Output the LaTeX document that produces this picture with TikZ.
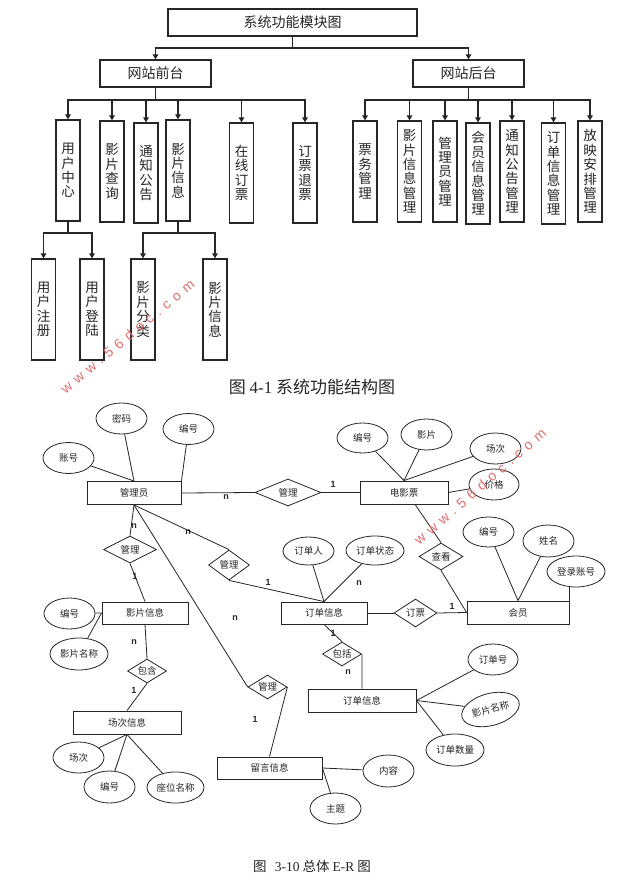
\documentclass[tikz,border=0pt]{standalone}
\usepackage{fontspec}
\setmainfont{Noto Sans CJK SC}
\newfontfamily\lat{Liberation Serif}
\newfontfamily\lsans{Liberation Sans}
\newfontfamily\wmfont[LetterSpace=40]{Liberation Sans}
\usetikzlibrary{shapes.geometric,arrows.meta,calc}
\definecolor{ink}{rgb}{0.15,0.15,0.15}
\definecolor{wmred}{RGB}{222,112,112}
\tikzset{
  tbox/.style={draw=ink, line width=1.2pt, inner sep=0pt, text=ink, font=\fontsize{14}{16}\selectfont},
  vbox/.style={tbox, minimum width=24pt, minimum height=101pt, align=center, font=\fontsize{13.5}{14.4}\selectfont},
  tline/.style={draw=ink, line width=1.2pt},
  tarr/.style={draw=ink, line width=1.2pt, -{Triangle[length=5pt,width=5.5pt]}},
  ent/.style={draw=ink, line width=0.9pt, inner sep=0pt, text=ink, font=\fontsize{9.5}{11}\selectfont},
  attr/.style={ellipse, draw=ink, line width=0.8pt, inner sep=0pt, minimum width=51pt, minimum height=31pt, text=ink, font=\fontsize{9.5}{11}\selectfont},
  rel/.style={diamond, draw=ink, line width=0.8pt, inner sep=0pt, shape aspect=1.6, text=ink, font=\fontsize{9.5}{11}\selectfont},
  erl/.style={draw=ink, line width=0.8pt},
  card/.style={inner sep=0pt, text=ink, font=\lsans\bfseries\fontsize{9}{10}\selectfont},
  wm/.style={inner sep=0pt, text=wmred, font=\wmfont\fontsize{14}{14}\selectfont},
  captxt/.style={inner sep=0pt, text=ink}
}
\begin{document}
\begin{tikzpicture}[x=1pt,y=-1pt]
\useasboundingbox (0,0) rectangle (643,885);
\fill[white] (0,0) rectangle (643,885);

% ---------- top: function structure ----------
\node[tbox, minimum width=249pt, minimum height=27pt] (title) at (292.5,22.5) {系统功能模块图};
\node[tbox, minimum width=111pt, minimum height=27pt] (qt) at (155.5,73.5) {网站前台};
\node[tbox, minimum width=111pt, minimum height=27pt] (ht) at (468.5,73.5) {网站后台};
\coordinate (t1) at (292.5,48);
\draw[tline] (title.south) -- (t1);
\draw[tarr] (t1) -| (qt.north);
\draw[tarr] (t1) -| (ht.north);

% front children
\node[vbox] (yh)  at (68,170.5)  {用\\户\\中\\心};
\node[vbox] (ycx) at (112,171.5) {影\\片\\查\\询};
\node[vbox, minimum height=100pt] (tz)  at (146,173)   {通\\知\\公\\告};
\node[vbox] (ypx) at (178,170.5) {影\\片\\信\\息};
\node[vbox, minimum height=100pt] (zx)  at (241.5,173) {在\\线\\订\\票};
\node[vbox, minimum height=100pt] (tp)  at (305,173)   {订\\票\\退\\票};
\coordinate (f1) at (155.5,100);
\draw[tline] (qt.south) -- (f1);
\foreach \n in {yh,ycx,tz,ypx,zx,tp} \draw[tarr] (f1) -| (\n.north);

% back children
\node[vbox] (pw)  at (365,171.5)   {票\\务\\管\\理};
\node[vbox] (ypm) at (409.5,171.5) {影\\片\\信\\息\\管\\理};
\node[vbox] (glm) at (445,171.5)   {管\\理\\员\\管\\理};
\node[vbox] (hym) at (478,173.5)   {会\\员\\信\\息\\管\\理};
\node[vbox] (tzm) at (512,171.5)   {通\\知\\公\\告\\管\\理};
\node[vbox] (ddm) at (553.5,173.5) {订\\单\\信\\息\\管\\理};
\node[vbox] (fym) at (590,171.5)   {放\\映\\安\\排\\管\\理};
\coordinate (b1) at (468.5,100);
\draw[tline] (ht.south) -- (b1);
\foreach \n in {pw,ypm,glm,hym,tzm,ddm,fym} \draw[tarr] (b1) -| (\n.north);

% level 3
\node[vbox] (yhzc) at (43.5,309.5) {用\\户\\注\\册};
\node[vbox] (yhdl) at (92,309.5)   {用\\户\\登\\陆};
\node[vbox] (ypfl) at (143,309.5)  {影\\片\\分\\类};
\node[vbox] (ypx2) at (215,309.5)  {影\\片\\信\\息};
\coordinate (u1) at (68,233);
\coordinate (p1) at (178,233);
\draw[tline] (yh.south) -- (u1);
\draw[tarr] (u1) -| (yhzc.north);
\draw[tarr] (u1) -| (yhdl.north);
\draw[tline] (ypx.south) -- (p1);
\draw[tarr] (p1) -| (ypfl.north);
\draw[tarr] (p1) -| (ypx2.north);

\node[captxt, font=\fontsize{17}{19}\selectfont] (cap1) at (312,387) {图 {\lat 4-1} 系统功能结构图};

% ---------- bottom: E-R diagram ----------
% entities
\node[ent, minimum width=94pt, minimum height=23pt]  (gly)   at (134,493)    {管理员};
\node[ent, minimum width=88pt, minimum height=23pt]  (dyp)   at (404,492.5)  {电影票};
\node[ent, minimum width=86pt, minimum height=22pt]  (ypxx)  at (145,613)    {影片信息};
\node[ent, minimum width=86pt, minimum height=22pt]  (ddxx)  at (324,613)    {订单信息};
\node[ent, minimum width=102pt, minimum height=23pt] (hy)    at (518,612.5)  {会员};
\node[ent, minimum width=108pt, minimum height=23pt] (ddxx2) at (362,700.5)  {订单信息};
\node[ent, minimum width=108pt, minimum height=23pt] (ccxx)  at (127,722.5)  {场次信息};
\node[ent, minimum width=105pt, minimum height=22pt] (lyxx)  at (269.5,768)  {留言信息};

% relationships
\node[rel, minimum width=66pt, minimum height=27pt] (r1) at (288,492.5) {管理};
\node[rel, minimum width=53pt, minimum height=27pt] (r2) at (130,549.5) {管理};
\node[rel, minimum width=41pt, minimum height=30pt] (r3) at (229,565)   {管理};
\node[rel, minimum width=44pt, minimum height=27pt] (ck) at (441,556.5) {查看};
\node[rel, minimum width=43pt, minimum height=28pt] (dp) at (415.5,613) {订票};
\node[rel, minimum width=39pt, minimum height=24pt] (bk) at (342,654)   {包括};
\node[rel, minimum width=39pt, minimum height=24pt] (bh) at (147,671)   {包含};
\node[rel, minimum width=39pt, minimum height=24pt] (r4) at (267.5,687) {管理};

% attributes
\node[attr] (mm)   at (121.5,418.5) {密码};
\node[attr] (bh1)  at (188.5,429)   {编号};
\node[attr] (zh)   at (68.5,458)    {账号};
\node[attr, minimum height=30pt] (bh2) at (362.5,438) {编号};
\node[attr] (yp)   at (426.5,434.5) {影片};
\node[attr] (cc1)  at (495.5,448.5) {场次};
\node[attr, minimum width=50pt] (jg) at (494,484.5) {价格};
\node[attr, minimum height=30pt] (bh3) at (488.5,532) {编号};
\node[attr, minimum height=32pt] (xm) at (548.5,541) {姓名};
\node[attr, minimum width=58pt] (dlzh) at (576,571.5) {登录账号};
\node[attr, minimum height=28pt] (ddr) at (308.5,551) {订单人};
\node[attr, minimum width=58pt, minimum height=29pt] (ddzt) at (375,550.5) {订单状态};
\node[attr] (bh4)  at (69.5,613.5) {编号};
\node[attr, minimum width=58pt, minimum height=32pt] (ypmc) at (79,654) {影片名称};
\node[attr] (cc2)  at (78.5,757.5) {场次};
\node[attr, minimum height=32pt] (bh5) at (109.5,787) {编号};
\node[attr, minimum width=57pt] (zwmc) at (175.5,787.5) {座位名称};
\node[attr, minimum width=50pt] (ddh) at (493,659.5) {订单号};
\node[attr, minimum width=59pt, minimum height=32pt, rotate=15] (ypmc2) at (490.5,709.5) {影片名称};
\node[attr, minimum width=58pt, minimum height=32pt] (ddsl) at (455,750) {订单数量};
\node[attr, minimum height=32pt] (nr) at (388.5,771) {内容};
\node[attr] (zt)   at (335.5,808.5) {主题};

% connectors
\draw[erl] (mm) -- (gly.north);
\draw[erl] (zh) -- (gly.north);
\draw[erl] (bh1) -- (gly.north east);
\draw[erl] (gly.east) -- (r1.west);
\draw[erl] (r1.east) -- (dyp.west);
\draw[erl] (bh2) -- (dyp.north);
\draw[erl] (yp) -- (dyp.north);
\draw[erl] (cc1) -- (dyp.north);
\draw[erl] (jg) -- (dyp.east);
\draw[erl] ($(dyp.south west)!0.625!(dyp.south east)$) -- (ck.north);
\draw[erl] (ck.south) -- (hy.west);
\draw[erl] (dp.east) -- (hy.west);
\draw[erl] (ddxx.east) -- (dp.west);
\draw[erl] (bh3) -- (hy.north);
\draw[erl] (xm) -- (hy.north);
\draw[erl] (hy.north east) -- (hy.north east |- dlzh.south);
\draw[erl] (ddr) -- (ddxx.north);
\draw[erl] (ddzt) -- (ddxx.north);
\draw[erl] (r3.south) -- (ddxx.north);
\draw[erl] (gly.south) -- (r3.north);
\draw[erl] (gly.south) -- (r2.north);
\draw[erl] (r2.south) -- (ypxx.north);
\draw[erl] (gly.south) -- (r4.west);
\draw[erl] (r4.east) -- (lyxx.north);
\draw[erl] (bh4) -- (ypxx.west);
\draw[erl] (ypmc) -- (ypxx.west);
\draw[erl] (ypxx.south) -- (bh.north);
\draw[erl] (bh.south) -- (ccxx.north);
\draw[erl] (ccxx.south) -- (cc2);
\draw[erl] (ccxx.south) -- (bh5);
\draw[erl] (ccxx.south) -- (zwmc);
\draw[erl] (ddxx.south) -- (bk.north);
\draw[erl] (bk.east) -- (ddxx2.north);
\draw[erl] (ddxx2.east) -- (ddh);
\draw[erl] (ddxx2.east) -- (ypmc2);
\draw[erl] (ddxx2.east) -- (ddsl);
\draw[erl] (lyxx.east) -- (nr);
\draw[erl] (lyxx.east) -- (zt);

% cardinalities
\node[card] (c1)  at (226,497) {n};
\node[card] (c2)  at (333,484) {1};
\node[card] (c3)  at (134,526) {n};
\node[card] (c4)  at (135,576) {1};
\node[card] (c5)  at (188,532) {n};
\node[card] (c6)  at (268,582) {1};
\node[card] (c7)  at (359,583) {n};
\node[card] (c8)  at (452,606) {1};
\node[card] (c9)  at (235,618) {n};
\node[card] (c10) at (134,642) {n};
\node[card] (c11) at (134,690) {1};
\node[card] (c12) at (333,633) {1};
\node[card] (c13) at (348,672) {n};
\node[card] (c14) at (255,719) {1};

\node[captxt, font=\fontsize{13.5}{15}\selectfont] (cap2) at (312,866) {图\hspace{0.6em}{\lat 3-10} 总体 {\lat E-R} 图};

% watermarks
\node[wm, rotate=40] (wm1) at (127.5,336.5) {www.56doc.com};
\node[wm, rotate=41] (wm2) at (480,486.5) {www.56doc.com};
\end{tikzpicture}
\end{document}
